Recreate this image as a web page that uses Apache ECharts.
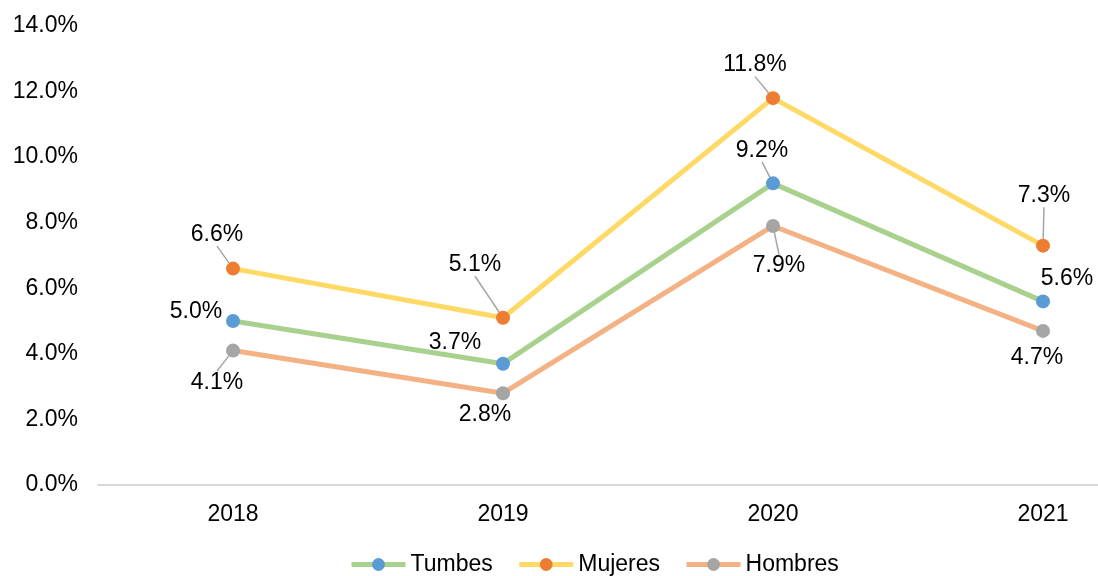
<!DOCTYPE html>
<html>
<head>
<meta charset="utf-8">
<script src="https://cdn.jsdelivr.net/npm/echarts@6/dist/echarts.min.js"></script>
<style>
  html, body { margin: 0; padding: 0; background: #fff; }
  #chart_main { width: 1098px; height: 576px; }
</style>
</head>
<body>
<div id="chart_main"></div>
<script>
  var years = ['2018', '2019', '2020', '2021'];
  var tumbes = [5.0, 3.7, 9.2, 5.6];
  var mujeres = [6.6, 5.1, 11.8, 7.3];
  var hombres = [4.1, 2.8, 7.9, 4.7];

  // label offsets from each point (px) and whether a leader line is drawn
  var labelOffsets = [
    [[-37, -9], [-48, -21], [-11, -33], [24, -23]],
    [[-16, -34], [-28, -53], [-18, -33], [1, -50]],
    [[-16, 32], [-18, 21], [6, 40], [-6, 27]]
  ];
  var leaders = [
    [false, false, true, false],
    [true, true, true, true],
    [true, false, true, false]
  ];

  var fontFam = "'Liberation Sans', Arial, sans-serif";

  function makeSeries(name, vals, idx, lineColor, dotColor) {
    return {
      name: name,
      type: 'line',
      data: vals.map(function (v, i) {
        return { value: v, labelLine: { show: leaders[idx][i] } };
      }),
      symbol: 'circle',
      symbolSize: 14,
      lineStyle: { color: lineColor, width: 5 },
      itemStyle: { color: dotColor },
      label: {
        show: true,
        position: 'inside',
        color: '#000',
        fontSize: 23,
        fontFamily: fontFam,
        formatter: function (p) { return p.value.toFixed(1) + '%'; }
      },
      labelLine: {
        show: false,
        lineStyle: { color: '#A5A5A5', width: 1.5 }
      },
      labelLayout: function (p) {
        var o = labelOffsets[idx][p.dataIndex];
        return { dx: o[0], dy: o[1] };
      },
      emphasis: { disabled: true }
    };
  }

  var myChart = echarts.init(document.getElementById('chart_main'));
  var option = {
    backgroundColor: '#fff',
    animation: false,
    textStyle: { fontFamily: fontFam },
    grid: {
      left: 98,
      top: 26,
      bottom: 91,
      width: 1080,
      containLabel: false,
      outerBoundsMode: 'none'
    },
    legend: {
      data: ['Tumbes', 'Mujeres', 'Hombres'],
      left: 344,
      top: 548,
      itemWidth: 54,
      itemHeight: 16,
      itemGap: 24,
      lineStyle: { width: 5 },
      textStyle: { fontSize: 23, color: '#000', fontFamily: fontFam }
    },
    xAxis: {
      type: 'category',
      data: years,
      axisTick: { show: false },
      axisLine: { lineStyle: { color: '#D9D9D9', width: 2 } },
      axisLabel: { color: '#000', fontSize: 23, margin: 18, fontFamily: fontFam }
    },
    yAxis: {
      type: 'value',
      min: 0,
      max: 14,
      interval: 2,
      splitLine: { show: false },
      axisLine: { show: false },
      axisTick: { show: false },
      axisLabel: {
        color: '#000',
        fontSize: 23,
        margin: 20,
        fontFamily: fontFam,
        formatter: function (v) { return v.toFixed(1) + '%'; }
      }
    },
    series: [
      makeSeries('Tumbes', tumbes, 0, '#A9D18E', '#5B9BD5'),
      makeSeries('Mujeres', mujeres, 1, '#FFD966', '#ED7D31'),
      makeSeries('Hombres', hombres, 2, '#F4B183', '#A5A5A5')
    ]
  };
  myChart.setOption(option);
  window.addEventListener('resize', function () { myChart.resize(); });
</script>
</body>
</html>
